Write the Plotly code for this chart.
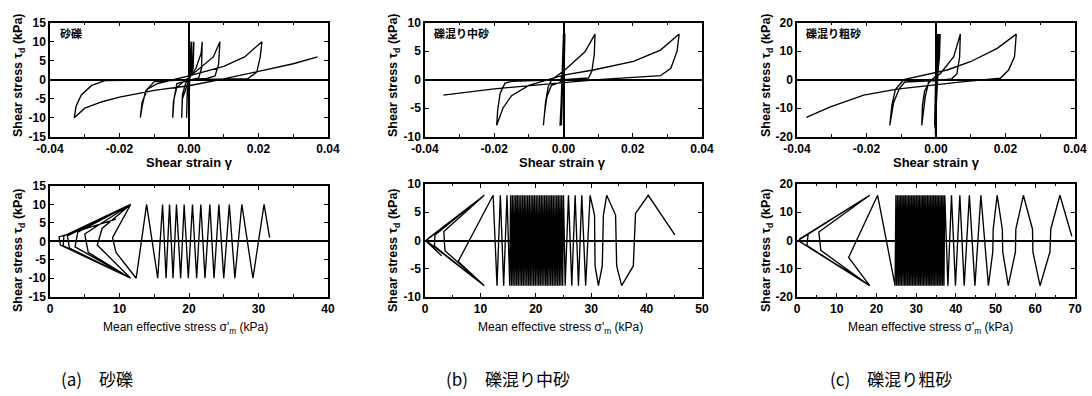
import plotly.graph_objects as go

# ---------------- data ----------------
# (a) 砂礫 : shear strain / shear stress path
strain_a = [0.0, 0.0003, 0.0001, -0.0001, 0.0002, 0.0008, 0.0005, -0.0005, -0.0007, -0.0005,
            0.0008, 0.0014, 0.0012, 0.0, -0.0019, -0.0021, -0.0019, -0.001, 0.002, 0.0035,
            0.0038, 0.0036, 0.0028, -0.0035, -0.0045, -0.0047, -0.0043, -0.0035, -0.0015, 0.003,
            0.007, 0.0089, 0.0085, 0.0075, 0.005, -0.010, -0.0125, -0.0135, -0.014, -0.0135,
            -0.012, -0.009, 0.0, 0.010, 0.016, 0.021, 0.0205, 0.0195, 0.017, 0.0,
            -0.024, -0.028, -0.031, -0.0325, -0.033, -0.030, -0.025, -0.020, -0.010, 0.0,
            0.010, 0.020, 0.030, 0.037]
stress_a = [0, 10, 0, -10, 0, 10, 2, -4, -10, -3,
            3, 10, 3, 0, -5, -10, -4, -1, 3, 7,
            10, 3, 0.5, -1, -6, -10, -5, -2, -0.5, 3,
            6, 10, 4, 1, 0.3, -0.5, -3, -7, -10, -6,
            -2.5, -1, 1, 3.5, 6, 10, 6, 2, 0.3, 0,
            -0.2, -1.5, -4, -7, -10, -7.5, -5.8, -4.6, -2.8, -1.6,
            0.2, 2.2, 4.2, 6]

# (a) stress path: mean effective stress / shear stress
sigma_a = [31.6, 30.8, 29.2, 27.6, 26.6, 25.8, 25.0, 24.3, 23.6, 23.0, 22.3, 21.7, 21.1, 20.5,
           19.9, 19.3, 18.8, 18.2, 17.7, 17.2, 16.7, 16.2, 15.5, 13.9, 12.4,
           9.5, 9.0, 11.6, 7.5, 6.8, 11.6, 5.5, 5.0, 11.6, 4.0, 3.6, 11.6, 2.8, 2.5, 11.6,
           2.0, 1.9, 11.6, 1.5, 1.3, 9.5]
tau_a = [1.0, 10, -10, 10, -10, 10, -10, 10, -10, 10, -10, 10, -10, 10,
         -10, 10, -10, 10, -10, 10, -10, 10, -10, 10, -10,
         -3.0, 1.0, 10, 3.5, -1.0, -10, -3.0, 2.0, 10, 2.5, -1.5, -10, -1.8, 1.5, 10,
         1.5, -1.2, -10, -1.0, 1.2, 6]

# (b) 礫混り中砂
strain_b = [0.0, 0.0001, -0.0008, 0.0002, -0.0007, 0.0000, -0.0009, 0.0001, -0.0008, 0.0002,
            -0.0006, 0.0001, -0.0009, 0.0000, -0.0008, 0.0002, -0.0007, 0.0001, -0.0009, 0.0003,
            -0.0010, 0.0004,
            0.0002, -0.0010, -0.0035, -0.0048, -0.0055, -0.0058,
            -0.0052, -0.0044, -0.0034, 0.0004, 0.0062, 0.0091,
            0.0089, 0.0082, 0.0072, 0.0, -0.0150, -0.0169, -0.0183, -0.0190, -0.0193,
            -0.0175, -0.0150, -0.0100, -0.0040, 0.0, 0.0086, 0.0202, 0.0280, 0.0334,
            0.0328, 0.0310, 0.0280, 0.0200, 0.0100, 0.0, -0.0100, -0.0200, -0.0347]
stress_b = [0, 8, -8, 8, -8, 8, -8, 8, -8, 8,
            -8, 8, -8, 8, -8, 8, -8, 8, -8, 8,
            -8.1, 8.1,
            2, -0.5, -1, -3, -6, -8,
            -4, -1.2, 0, 1.7, 4.9, 8,
            4.5, 1.5, 0.3, 0.0, -0.3, -0.6, -2.4, -5.3, -8,
            -5, -2.8, -1.0, 0.0, 0.8, 1.7, 3.2, 5.2, 8,
            5, 2, 0.7, 0.4, 0.0, -0.5, -1.0, -1.6, -2.7]

sigma_b_sparse = [45.1, 40.3, 38.0, 37.6, 35.5, 34.6, 34.4, 32.8, 32.2, 32.0, 31.3, 30.7, 30.6,
                  29.8, 29.0, 28.3, 27.7, 27.1, 26.5, 25.9, 25.3]
tau_b_sparse = [1.0, 8, 4.8, -4.5, -8, -4.5, 4.5, 8, 4.5, -4.5, -8, -4.5, 4.5,
                8, -8, 8, -8, 8, -8, 8, -8]
sigma_b_dense = [25.0, 24.85, 24.69, 24.54, 24.38, 24.23, 24.08, 23.92, 23.77, 23.61,
                 23.46, 23.31, 23.15, 23.0, 22.84, 22.69, 22.54, 22.38, 22.23, 22.07,
                 21.92, 21.77, 21.61, 21.46, 21.3, 21.15, 21.0, 20.84, 20.69, 20.53,
                 20.38, 20.23, 20.07, 19.92, 19.76, 19.61, 19.46, 19.3, 19.15, 18.99,
                 18.84, 18.69, 18.53, 18.38, 18.22, 18.07, 17.92, 17.76, 17.61, 17.45,
                 17.3, 17.15, 16.99, 16.84, 16.68, 16.53, 16.38, 16.22, 16.07, 15.91,
                 15.76, 15.61, 15.45, 15.3]
tau_b_dense = [8, -8, 8, -8, 8, -8, 8, -8, 8, -8, 8, -8, 8, -8, 8, -8,
               8, -8, 8, -8, 8, -8, 8, -8, 8, -8, 8, -8, 8, -8, 8, -8,
               8, -8, 8, -8, 8, -8, 8, -8, 8, -8, 8, -8, 8, -8, 8, -8,
               8, -8, 8, -8, 8, -8, 8, -8, 8, -8, 8, -8, 8, -8, 8, -8]
sigma_b_low = [14.8, 14.2, 13.6, 13.0, 12.3, 6.0, 10.7, 3.6, 3.4, 10.7, 1.8, 1.7, 10.7,
               0.6, 0.5, 10.7, 0.3, 0.2, 3.0]
tau_b_low = [8, -8, 8, -8, 8, -3.7, -8, -1.8, 1.6, 8, 1.0, -1.0, -8,
             -0.3, 0.3, 8, 0.1, -0.1, -2.7]

# (c) 礫混り粗砂
strain_c = [0.0, 0.0002, -0.0004, 0.0004, -0.0003, 0.0006, -0.0002, 0.0008, -0.0004, 0.0010,
            -0.0003, 0.0012,
            0.0010, 0.0005, -0.0020, -0.0033, -0.0039, -0.0041,
            -0.0031, -0.0021, 0.0013, 0.0051, 0.0070,
            0.0068, 0.0060, 0.0045, 0.0, -0.0090, -0.0105, -0.0122, -0.0133,
            -0.0127, -0.0117, -0.0093, -0.0035, 0.0032, 0.0099, 0.0176, 0.0231,
            0.0226, 0.0209, 0.0185, 0.0080, -0.0016, -0.0112, -0.0208, -0.0304, -0.0373]
stress_c = [0, 16, -16, 15.5, -17, 16, -19, 15, -16, 16,
            -17, 16,
            8, 2, -1, -4, -9, -16,
            -6, -0.7, 2.2, 8.1, 16,
            8, 2, 0.3, -0.3, -0.8, -3, -8, -16,
            -9, -3.5, 0, 1.6, 3.4, 6.3, 11, 16,
            8.1, 3.4, 0.5, -0.7, -1.9, -3.3, -5.4, -9.5, -13.2]

sigma_c_sparse = [69.2, 66.2, 63.9, 63.7, 61.2, 59.4, 59.3, 57.0, 55.1, 55.0, 53.2, 51.8, 51.7,
                  50.4, 49.4, 49.3, 48.2, 46.3, 44.8, 43.4, 42.1, 41.0, 39.9, 38.9, 38.0]
tau_c_sparse = [1.5, 16, 4, -4, -16, -4, 4, 16, 4, -4, -16, -4, 4,
                16, 4, -4, -16, 16, -16, 16, -16, 16, -16, 16, -16]
sigma_c_dense = [37.2, 37.0, 36.8, 36.61, 36.41, 36.21, 36.01, 35.81, 35.61, 35.42,
                 35.22, 35.02, 34.82, 34.62, 34.42, 34.23, 34.03, 33.83, 33.63, 33.43,
                 33.23, 33.04, 32.84, 32.64, 32.44, 32.24, 32.04, 31.85, 31.65, 31.45,
                 31.25, 31.05, 30.85, 30.66, 30.46, 30.26, 30.06, 29.86, 29.66, 29.47,
                 29.27, 29.07, 28.87, 28.67, 28.47, 28.28, 28.08, 27.88, 27.68, 27.48,
                 27.28, 27.09, 26.89, 26.69, 26.49, 26.29, 26.09, 25.9, 25.7, 25.5,
                 25.3, 25.1, 24.9, 24.7]
tau_c_dense = [16, -16, 16, -16, 16, -16, 16, -16, 16, -16, 16, -16, 16, -16, 16, -16,
               16, -16, 16, -16, 16, -16, 16, -16, 16, -16, 16, -16, 16, -16, 16, -16,
               16, -16, 16, -16, 16, -16, 16, -16, 16, -16, 16, -16, 16, -16, 16, -16,
               16, -16, 16, -16, 16, -16, 16, -16, 16, -16, 16, -16, 16, -16, 16, -16]
sigma_c_low = [20.3, 13.0, 18.3, 6.0, 5.5, 18.3, 2.8, 2.5, 18.3, 0.8, 0.7, 18.3, 0.5, 0.4, 15.2]
tau_c_low = [16, -6.0, -16, -3.5, 3.0, 16, 2.2, -1.8, -16, -0.5, 0.6, 16, 0.2, -0.2, -13]

# axis settings (values / labels)
strain_ticks = [-0.04, -0.02, 0.0, 0.02, 0.04]
strain_labels = ["-0.04", "-0.02", "0.00", "0.02", "0.04"]
stress_ticks_a = [-15, -10, -5, 0, 5, 10, 15]
stress_ticks_b = [-10, -5, 0, 5, 10]
stress_ticks_c = [-20, -10, 0, 10, 20]
sigma_ticks_a = [0, 10, 20, 30, 40]
sigma_ticks_b = [0, 10, 20, 30, 40, 50]
sigma_ticks_c = [0, 10, 20, 30, 40, 50, 60, 70]

soil_names = ["砂礫", "礫混り中砂", "礫混り粗砂"]
captions = ["(a)　砂礫", "(b)　礫混り中砂", "(c)　礫混り粗砂"]

# ---------------- figure ----------------
W, H = 1092, 396
FONT = "Liberation Sans, Arial, Helvetica, sans-serif"
CJK = "Noto Sans CJK JP, sans-serif"


def px(x):
    return x / W


def py(y):
    return 1 - y / H


fig = go.Figure()
line = dict(color="black", width=1.35)

# panel layout in pixels: (left, right, top, bottom)
boxes = {
    "a_top": (50, 328, 22.7, 136.7), "a_bot": (50, 328, 186, 296.7),
    "b_top": (425, 702, 22.7, 136.7), "b_bot": (425, 702, 184, 297),
    "c_top": (797, 1075, 22.7, 136.7), "c_bot": (797, 1075, 184, 297),
}

series = [
    ("a_top", strain_a, stress_a),
    ("a_bot", sigma_a, tau_a),
    ("b_top", strain_b, stress_b),
    ("b_bot", sigma_b_sparse + sigma_b_dense + sigma_b_low, tau_b_sparse + tau_b_dense + tau_b_low),
    ("c_top", strain_c, stress_c),
    ("c_bot", sigma_c_sparse + sigma_c_dense + sigma_c_low, tau_c_sparse + tau_c_dense + tau_c_low),
]

ranges = {
    "a_top": ([-0.04, 0.04], [-15, 15], stress_ticks_a),
    "a_bot": ([0, 40], [-15, 15], stress_ticks_a),
    "b_top": ([-0.04, 0.04], [-10, 10], stress_ticks_b),
    "b_bot": ([0, 50], [-10, 10], stress_ticks_b),
    "c_top": ([-0.04, 0.04], [-20, 20], stress_ticks_c),
    "c_bot": ([0, 70], [-20, 20], stress_ticks_c),
}
xticks_bot = {"a_bot": sigma_ticks_a, "b_bot": sigma_ticks_b, "c_bot": sigma_ticks_c}

tickfont = dict(family=FONT, size=12, color="black", weight="bold")
base_axis = dict(showline=True, linecolor="black", linewidth=1.5, mirror="allticks",
                 ticks="inside", ticklen=4, tickwidth=1.2, tickcolor="black",
                 showgrid=False, zeroline=True, zerolinecolor="black", zerolinewidth=1.5,
                 tickfont=tickfont, fixedrange=True, automargin=False)

for i, (key, xs, ys) in enumerate(series, start=1):
    sfx = "" if i == 1 else str(i)
    fig.add_trace(go.Scatter(x=xs, y=ys, mode="lines", line=line,
                             xaxis="x" + sfx, yaxis="y" + sfx, hoverinfo="skip"))
    l, r, t, b = boxes[key]
    xr, yr, yt = ranges[key]
    if key.endswith("top"):
        xa = dict(base_axis, range=xr, tickvals=strain_ticks, ticktext=strain_labels,
                  minor=dict(ticks="inside", ticklen=2.5, tickcolor="black", dtick=0.01))
    else:
        xv = xticks_bot[key]
        xa = dict(base_axis, range=xr, tickvals=xv, ticktext=[str(v) for v in xv],
                  zeroline=False,
                  minor=dict(ticks="inside", ticklen=2.5, tickcolor="black", dtick=5))
    ya = dict(base_axis, range=yr, tickvals=yt, ticktext=[str(v) for v in yt])
    xa.update(domain=[px(l), px(r)], anchor="y" + sfx)
    ya.update(domain=[py(b), py(t)], anchor="x" + sfx)
    fig.layout["xaxis" + sfx] = xa
    fig.layout["yaxis" + sfx] = ya

annotations = []


def text(x, y, s, size, family=FONT, angle=0, xanchor="center"):
    annotations.append(dict(x=px(x), y=py(y), xref="paper", yref="paper", text=s,
                            showarrow=False, textangle=angle, xanchor=xanchor, yanchor="middle",
                            font=dict(family=family, size=size, color="black")))


ytitle = "<b>Shear stress τ<sub>d</sub> (kPa)</b>"
for xc in (19, 394, 767):
    text(xc, 75, ytitle, 12.5, angle=-90)
    text(xc, 250, ytitle, 12.5, angle=-90)
for xc in (189, 563, 936):
    text(xc, 163, "<b>Shear strain γ</b>", 13)
for xc in (185, 560, 930):
    text(xc, 328, "Mean effective stress σ'<sub>m</sub> (kPa)", 12)
for xl, name in zip((58, 432, 804), soil_names):
    text(xl, 33, "<b>" + name + "</b>", 11, family=CJK, xanchor="left")
for xc, cap in zip((97, 508, 891), captions):
    text(xc, 378, cap, 17, family=CJK)

fig.update_layout(width=W, height=H, margin=dict(l=0, r=0, t=0, b=0),
                  paper_bgcolor="white", plot_bgcolor="white", showlegend=False,
                  annotations=annotations)

fig.write_html("out.html", config={"displayModeBar": False},
               post_script="document.body.style.margin='0';document.body.style.padding='0';")
